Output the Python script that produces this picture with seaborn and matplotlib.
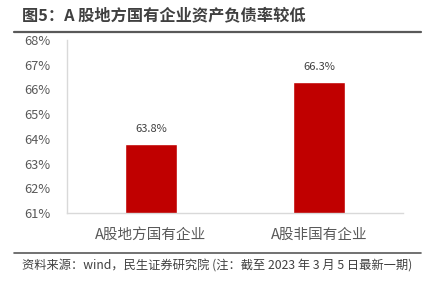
import matplotlib
matplotlib.use("Agg")
import matplotlib.pyplot as plt
import seaborn as sns
import pandas as pd
from matplotlib.lines import Line2D

categories = ["A股地方国有企业", "A股非国有企业"]
values = [63.8, 66.3]
yticks = [61, 62, 63, 64, 65, 66, 67, 68]
title = "图5：A 股地方国有企业资产负债率较低"
source = "资料来源：wind，民生证券研究院 (注：截至 2023 年 3 月 5 日最新一期)"

sns.set_theme(style="white")
plt.rcParams['font.family'] = ['Noto Sans CJK SC', 'DejaVu Sans']

df = pd.DataFrame({"cat": categories, "val": values})

fig = plt.figure(figsize=(4.34, 2.82), dpi=100)
ax = fig.add_axes([67/434, 1 - 213/282, (403-67)/434, (213-40)/282])

sns.barplot(data=df, x="cat", y="val", color="#C00000", width=0.31,
            saturation=1, ax=ax)
ax.set_ylim(61, 68)
ax.set_xlim(-0.5, 1.5)
ax.set_yticks(yticks)
ax.set_yticklabels([f"{t}%" for t in yticks], fontsize=9.3, color="#595959")
ax.tick_params(axis="x", labelsize=10.5, colors="#595959", length=0, pad=11)
ax.tick_params(axis="y", length=0, pad=12)
ax.set_xlabel("")
ax.set_ylabel("")
for s in ["top", "right"]:
    ax.spines[s].set_visible(False)
for s in ["left", "bottom"]:
    ax.spines[s].set_color("#D9D9D9")
    ax.spines[s].set_linewidth(1)

for p, v in zip(ax.patches, values):
    ax.annotate(f"{v:.1f}%", (p.get_x() + p.get_width()/2, v),
                xytext=(0, 10.5), textcoords="offset points",
                ha="center", va="center", fontsize=8, color="#404040")

fig.text(22/434, 1 - 15/282, title, fontsize=11.7, fontweight="bold",
         color="#404040", ha="left", va="center")
fig.add_artist(Line2D([14/434, 421/434], [1 - 32/282, 1 - 32/282],
                      color="#595959", linewidth=1.6))
fig.add_artist(Line2D([14/434, 421/434], [1 - 253/282, 1 - 253/282],
                      color="#595959", linewidth=1.2))
fig.text(22/434, 1 - 266/282, source, fontsize=8.8, color="#404040",
         ha="left", va="center")

fig.savefig("out.png", dpi=100)
